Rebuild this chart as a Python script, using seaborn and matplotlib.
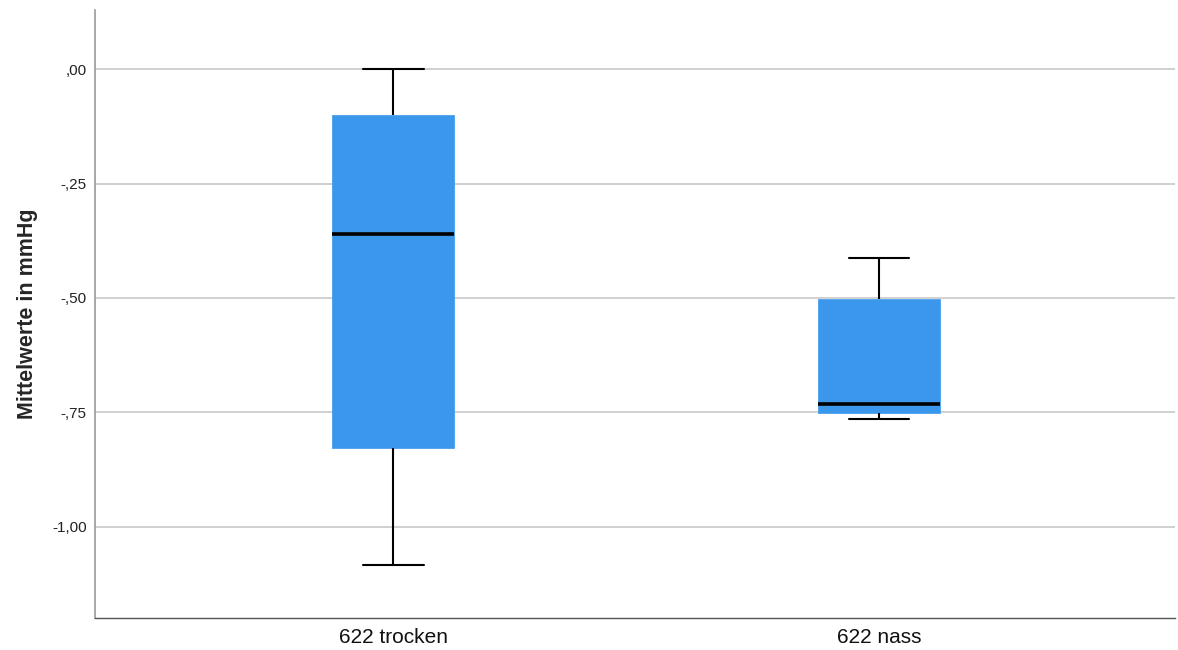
import pandas as pd
import matplotlib
matplotlib.use('Agg')
import matplotlib.pyplot as plt
import seaborn as sns

# five-number summaries (min, Q1, median, Q3, max)
categories = ['622 trocken', '622 nass']
trocken = [-1.083, -0.829, -0.360, -0.101, 0.00]
nass = [-0.765, -0.752, -0.732, -0.502, -0.412]
yticks = [0.0, -0.25, -0.50, -0.75, -1.00]
yticklabels = [',00', '-,25', '-,50', '-,75', '-1,00']

data = pd.DataFrame({
    'group': [categories[0]] * len(trocken) + [categories[1]] * len(nass),
    'value': trocken + nass,
})

sns.set_style('white')
plt.rcParams['font.family'] = ['Liberation Sans', 'DejaVu Sans']

fig = plt.figure(figsize=(11.78, 6.5), dpi=100)
ax = fig.add_axes([0.0806, 0.049, 0.917, 0.936])

for y in yticks:
    ax.axhline(y, color='#c8c8c8', lw=1.2, zorder=0)

sns.boxplot(data=data, x='group', y='value', order=categories, ax=ax,
            whis=(0, 100), width=0.25, color='#3b97ec', saturation=1,
            linewidth=1.5, fliersize=0,
            boxprops=dict(edgecolor='#3b97ec', linewidth=0.5),
            whiskerprops=dict(color='black', linewidth=1.5),
            capprops=dict(color='black', linewidth=1.5),
            medianprops=dict(color='black', linewidth=2.6),
            capwidths=0.125, zorder=2)

ax.set_xlim(-0.614, 1.61)
ax.set_ylim(-1.20, 0.13)
ax.set_yticks(yticks)
ax.set_yticklabels(yticklabels, fontsize=11, color='#222222')
ax.tick_params(axis='x', labelsize=15, length=0, pad=7, labelcolor='#111111')
ax.tick_params(axis='y', length=0, pad=6)
ax.set_xlabel('')
ax.set_ylabel('Mittelwerte in mmHg', fontsize=15.5, fontweight='bold', labelpad=10)

for side in ['top', 'right']:
    ax.spines[side].set_visible(False)
ax.spines['left'].set_color('#999999')
ax.spines['left'].set_linewidth(1.2)
ax.spines['bottom'].set_color('#555555')
ax.spines['bottom'].set_linewidth(1.0)

plt.savefig('out.png', dpi=100)
